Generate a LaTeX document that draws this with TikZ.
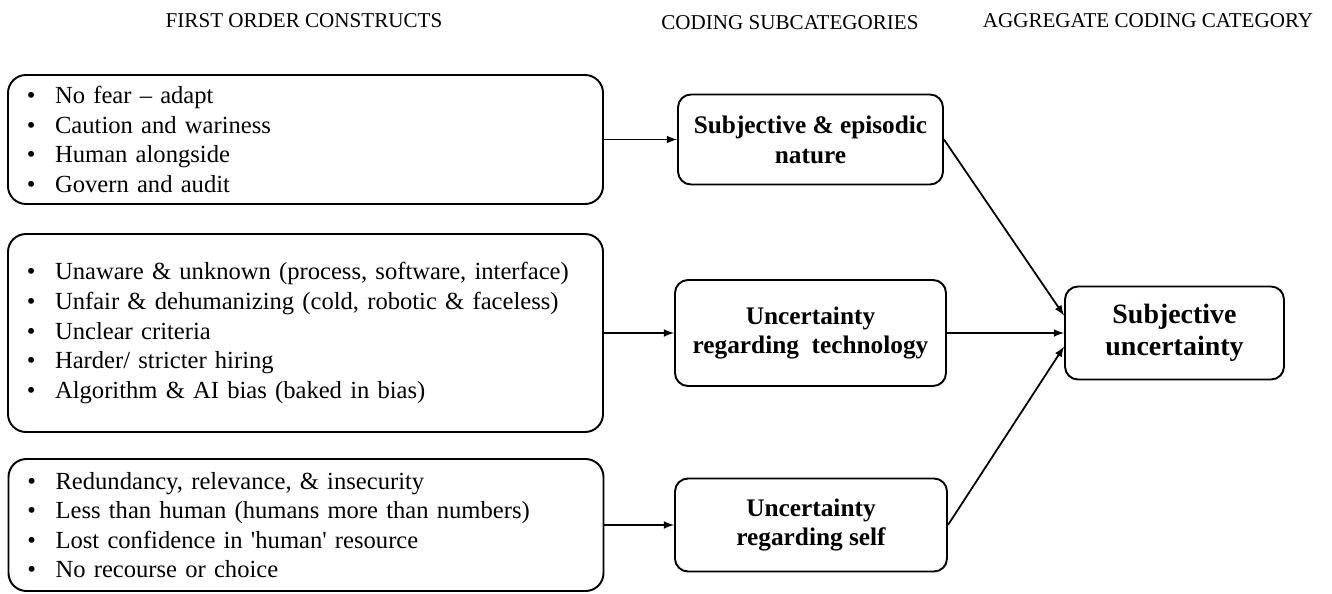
\documentclass[tikz,border=0pt]{standalone}
\usepackage{fontspec}
\setmainfont{Liberation Serif}
\usetikzlibrary{positioning, arrows}

\newcommand{\bul}[1]{\makebox[16pt][l]{\textbullet}#1}

\begin{document}
\begin{tikzpicture}[node distance=10.1cm, on grid, >=latex,
    list/.style={draw, line width=1.1pt, rounded corners=0.36cm, text width=317pt,
      inner xsep=10.8pt, align=left, font=\fontsize{14}{16.8}\selectfont},
    code/.style={draw, line width=1.1pt, rounded corners=0.26cm, align=center,
      inner sep=0pt, font=\fontsize{14.4}{17}\selectfont\bfseries},
    head/.style={font=\fontsize{12}{14}\selectfont}]
   \useasboundingbox (0,0) rectangle (26.64,-11.86);

   \node[head] (h_first) at (6.08,-0.42) {FIRST ORDER CONSTRUCTS};
   \node[head] (h_sub) at (15.8,-0.46) {CODING SUBCATEGORIES};
   \node[head] (h_agg) at (22.96,-0.42) {AGGREGATE CODING CATEGORY};

   \node[list, minimum height=2.58cm] (fo_1) at (6.11,-2.79)
     {\bul{No fear -- adapt}\\ \bul{Caution and wariness}\\
      \bul{Human alongside}\\ \bul{Govern and audit}};
   \node[list, minimum height=3.96cm] (fo_2) at (6.11,-6.66)
     {\bul{Unaware \& unknown (process, software, interface)}\\
      \bul{Unfair \& dehumanizing (cold, robotic \& faceless)}\\
      \bul{Unclear criteria}\\ \bul{Harder/ stricter hiring}\\
      \bul{Algorithm \& AI bias (baked in bias)}};
   \node[list, minimum height=2.64cm] (fo_3) at (6.12,-10.5)
     {\bul{Redundancy, relevance, \& insecurity}\\
      \bul{Less than human (humans more than numbers)}\\
      \bul{Lost confidence in \textquotesingle human\textquotesingle\ resource}\\
      \bul{No recourse or choice}};

   \node[code, minimum width=5.3cm, minimum height=1.8cm] (sc_1) [right=of fo_1]
     {Subjective \& episodic\\ nature};
   \node[code, minimum width=5.42cm, minimum height=2.12cm] (sc_2) [right=of fo_2]
     {Uncertainty\\ regarding\ \ technology};
   \node[code, minimum width=5.44cm, minimum height=1.86cm] (sc_3) [right=of fo_3]
     {Uncertainty\\ regarding self};

   \node[code, minimum width=4.38cm, minimum height=1.86cm,
     font=\fontsize{15.9}{18.2}\selectfont\bfseries] (agg) [right=7.28cm of sc_2]
     {Subjective\\ uncertainty};

   \path[->, line width=1pt]
    (fo_1) edge (sc_1)
    (fo_2) edge (sc_2)
    (fo_3) edge (sc_3)
    (sc_1.east) edge (agg.171)
    (sc_2.east) edge (agg.west)
    (sc_3.east) edge (agg.187);
\end{tikzpicture}
\end{document}
